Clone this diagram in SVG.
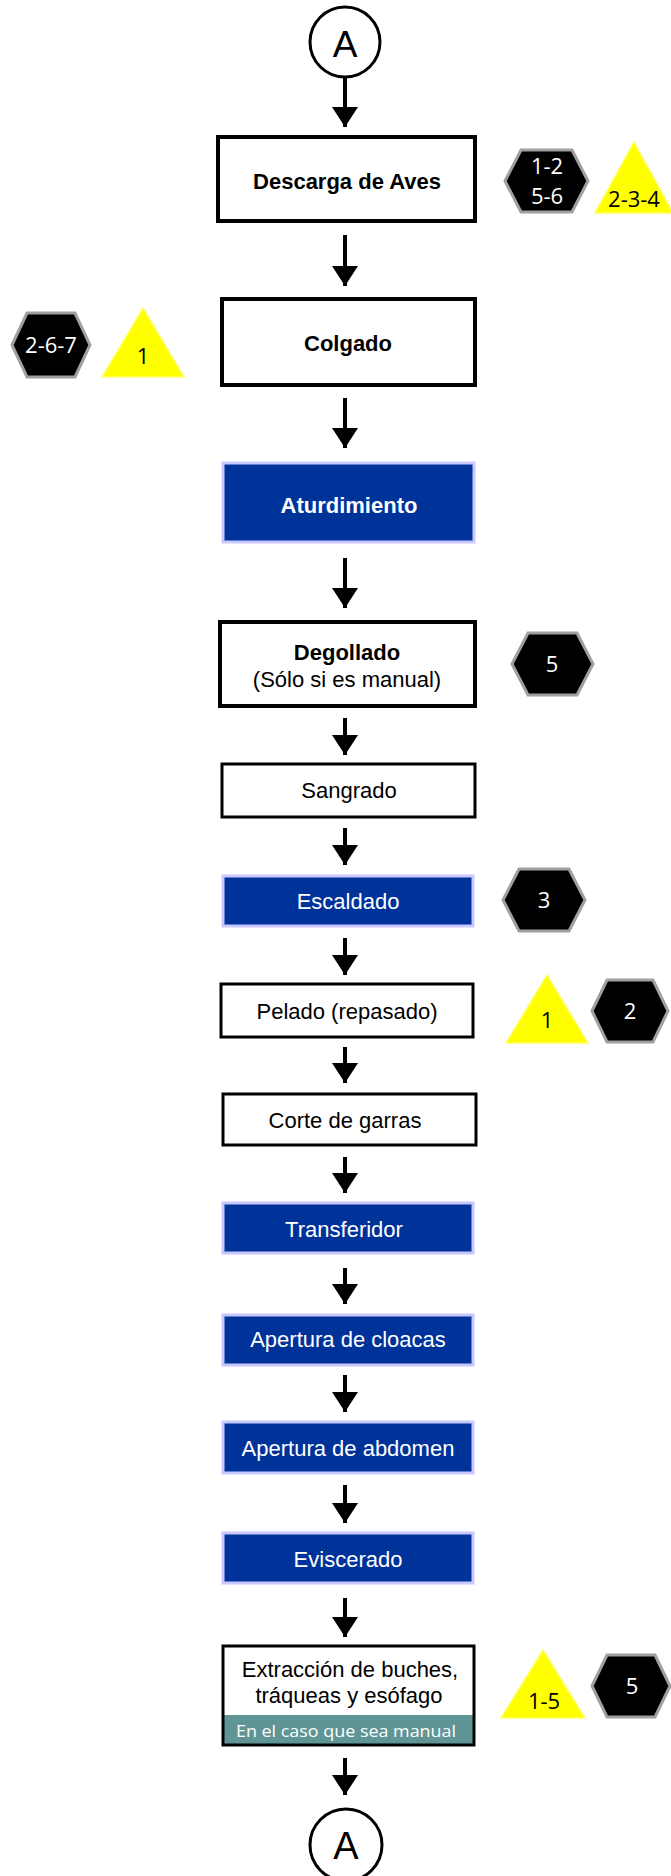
<svg xmlns="http://www.w3.org/2000/svg" width="671" height="1876" viewBox="0 0 671 1876">
<defs>
<style>
.wbox{fill:#ffffff;stroke:#000000;stroke-width:4}
.wbox3{fill:#ffffff;stroke:#000000;stroke-width:3}
.bbox{fill:#003399;stroke:#c8c8ff;stroke-width:3}
.t{font-family:"Liberation Sans",Arial,sans-serif;font-size:22px;text-anchor:middle;fill:#000}
.tb{font-weight:bold}
.tw{fill:#ffffff}
.hex{fill:#000000;stroke:#a0a0a0;stroke-width:3}
.tri{fill:#ffff00;stroke:#ffff66;stroke-width:1.5}
.ht{font-family:"Open Sans","Noto Sans",sans-serif;font-size:22px;text-anchor:middle;fill:#ffffff}
.tt{font-family:"Open Sans","Noto Sans",sans-serif;font-size:22px;text-anchor:middle;fill:#000000}
.conn line{stroke:#000;stroke-width:4}
.circ{fill:#ffffff;stroke:#000;stroke-width:3}
</style>
<marker id="ah" viewBox="0 -13 20 26" refX="20" refY="0" markerWidth="20" markerHeight="26" markerUnits="userSpaceOnUse" orient="auto">
<path d="M0,-13 L20,0 L0,13 z" fill="#000"/>
</marker>
</defs>
<rect width="671" height="1876" fill="#ffffff"/>

<g id="connectors" class="conn">
<line x1="345" y1="77" x2="345" y2="127" marker-end="url(#ah)"/>
<line x1="345" y1="235" x2="345" y2="286" marker-end="url(#ah)"/>
<line x1="345" y1="398" x2="345" y2="448" marker-end="url(#ah)"/>
<line x1="345" y1="558" x2="345" y2="608" marker-end="url(#ah)"/>
<line x1="345" y1="718" x2="345" y2="755" marker-end="url(#ah)"/>
<line x1="345" y1="828" x2="345" y2="865" marker-end="url(#ah)"/>
<line x1="345" y1="938" x2="345" y2="975" marker-end="url(#ah)"/>
<line x1="345" y1="1047" x2="345" y2="1083" marker-end="url(#ah)"/>
<line x1="345" y1="1157" x2="345" y2="1193" marker-end="url(#ah)"/>
<line x1="345" y1="1268" x2="345" y2="1304" marker-end="url(#ah)"/>
<line x1="345" y1="1375" x2="345" y2="1412" marker-end="url(#ah)"/>
<line x1="345" y1="1485" x2="345" y2="1523" marker-end="url(#ah)"/>
<line x1="345" y1="1598" x2="345" y2="1637" marker-end="url(#ah)"/>
<line x1="345" y1="1758" x2="345" y2="1795" marker-end="url(#ah)"/>
</g>

<g id="conn-A-top">
<circle class="circ" cx="345" cy="42" r="35"/>
<text x="345" y="57" font-family="Liberation Sans, Arial, sans-serif" font-size="37" text-anchor="middle">A</text>
</g>

<g id="descarga">
<rect class="wbox" x="218" y="137" width="257" height="84"/>
<text class="t tb" x="347" y="189">Descarga de Aves</text>
</g>
<g id="hex-descarga">
<polygon class="hex" points="505,181 521,150 572,150 588,181 572,212 521,212"/>
<text class="ht" x="547" y="174">1-2</text>
<text class="ht" x="547" y="204">5-6</text>
</g>
<g id="tri-descarga">
<polygon class="tri" points="634,142 673,213 595,213"/>
<text class="tt" x="634" y="207">2-3-4</text>
</g>

<g id="colgado">
<rect class="wbox" x="222" y="299" width="253" height="86"/>
<text class="t tb" x="348" y="351">Colgado</text>
</g>
<g id="hex-colgado">
<polygon class="hex" points="12,345 27,313 75,313 90,345 75,377 27,377"/>
<text class="ht" x="51" y="353">2-6-7</text>
</g>
<g id="tri-colgado">
<polygon class="tri" points="143,308 184,377 102,377"/>
<text class="tt" x="143" y="364">1</text>
</g>

<g id="aturdimiento">
<rect class="bbox" x="223" y="463" width="251" height="79"/>
<text class="t tb tw" x="349" y="513">Aturdimiento</text>
</g>

<g id="degollado">
<rect class="wbox" x="220" y="622" width="255" height="84"/>
<text class="t tb" x="347" y="660">Degollado</text>
<text class="t" x="347" y="687">(Sólo si es manual)</text>
</g>
<g id="hex-degollado">
<polygon class="hex" points="512,664 528,633 577,633 593,664 577,695 528,695"/>
<text class="ht" x="552" y="672">5</text>
</g>

<g id="sangrado">
<rect class="wbox3" x="222" y="764" width="253" height="53"/>
<text class="t" x="349" y="798">Sangrado</text>
</g>

<g id="escaldado">
<rect class="bbox" x="223" y="876" width="250" height="50"/>
<text class="t tw" x="348" y="909">Escaldado</text>
</g>
<g id="hex-escaldado">
<polygon class="hex" points="503,900 519,869 569,869 585,900 569,931 519,931"/>
<text class="ht" x="544" y="908">3</text>
</g>

<g id="pelado">
<rect class="wbox3" x="221" y="984" width="252" height="53"/>
<text class="t" x="347" y="1019">Pelado (repasado)</text>
</g>
<g id="tri-pelado">
<polygon class="tri" points="547,975 588,1043 506,1043"/>
<text class="tt" x="547" y="1028">1</text>
</g>
<g id="hex-pelado">
<polygon class="hex" points="592,1011 607,980 653,980 668,1011 653,1042 607,1042"/>
<text class="ht" x="630" y="1019">2</text>
</g>

<g id="corte">
<rect class="wbox3" x="223" y="1094" width="253" height="51"/>
<text class="t" x="345" y="1128">Corte de garras</text>
</g>

<g id="transferidor">
<rect class="bbox" x="223" y="1203" width="250" height="50"/>
<text class="t tw" x="344" y="1237">Transferidor</text>
</g>

<g id="cloacas">
<rect class="bbox" x="223" y="1315" width="250" height="50"/>
<text class="t tw" x="348" y="1347">Apertura de cloacas</text>
</g>

<g id="abdomen">
<rect class="bbox" x="223" y="1422" width="250" height="51"/>
<text class="t tw" x="348" y="1456">Apertura de abdomen</text>
</g>

<g id="eviscerado">
<rect class="bbox" x="223" y="1533" width="250" height="50"/>
<text class="t tw" x="348" y="1567">Eviscerado</text>
</g>

<g id="extraccion">
<rect x="223" y="1646" width="251" height="99" fill="#ffffff"/>
<rect x="223" y="1715" width="251" height="30" fill="#5f9595"/>
<rect x="223" y="1646" width="251" height="99" fill="none" stroke="#000" stroke-width="3"/>
<text class="t" x="350" y="1677">Extracción de buches,</text>
<text class="t" x="349" y="1703">tráqueas y esófago</text>
<text x="346" y="1737" font-family="Open Sans, Noto Sans, sans-serif" font-size="16" fill="#ffffff" text-anchor="middle" textLength="220" lengthAdjust="spacingAndGlyphs">En el caso que sea manual</text>
</g>
<g id="tri-extraccion">
<polygon class="tri" points="543,1650 585,1718 501,1718"/>
<text class="tt" x="544" y="1709">1-5</text>
</g>
<g id="hex-extraccion">
<polygon class="hex" points="592,1686 607,1655 655,1655 670,1686 655,1717 607,1717"/>
<text class="ht" x="632" y="1694">5</text>
</g>

<g id="conn-A-bottom">
<circle class="circ" cx="346" cy="1845" r="36"/>
<text x="346" y="1859" font-family="Liberation Sans, Arial, sans-serif" font-size="38" text-anchor="middle">A</text>
</g>
</svg>
